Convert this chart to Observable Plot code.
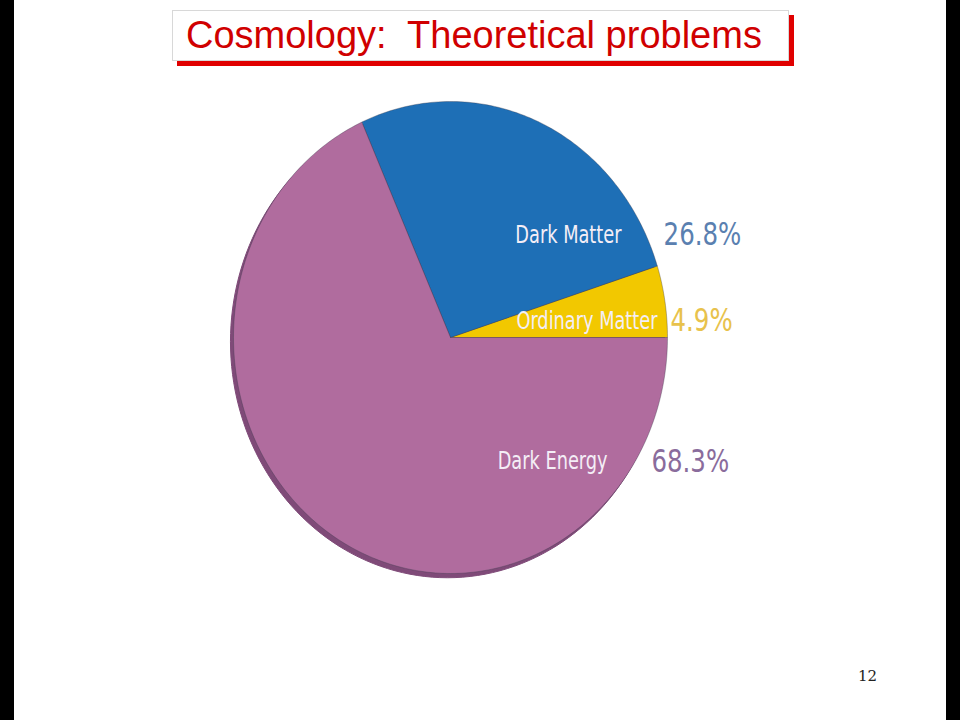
<!DOCTYPE html>
<html>
<head>
<meta charset="utf-8">
<script src="https://cdn.jsdelivr.net/npm/d3@7"></script>
<script src="https://cdn.jsdelivr.net/npm/@observablehq/plot@0.6"></script>
<style>
  html, body { margin: 0; padding: 0; width: 960px; height: 720px; background: #000; overflow: hidden; }
  #slide { position: absolute; left: 14px; top: 0; width: 932px; height: 720px; background: #fff; }
  #title { position: absolute; left: 158px; top: 10px; width: 615px; height: 49px; border: 1px solid #d8d8d8;
           box-shadow: 5px 5px 0 #e00000; background: #fff; box-sizing: content-box; }
  #title span { position: absolute; left: 13px; top: 5px; font-family: "Liberation Sans", sans-serif; font-size: 38px;
           line-height: 1; color: #d00000; white-space: pre; }
  #chart { position: absolute; left: 0; top: 80px; }
  #page { position: absolute; left: 844px; top: 667px; font-family: "DejaVu Serif", serif; font-size: 15px; color: #222; }
</style>
</head>
<body>
<div id="slide">
  <div id="title"><span>Cosmology:  Theoretical problems</span></div>
  <div id="chart"></div>
  <div id="page">12</div>
</div>
<script>
// Data
const categories = ["Ordinary Matter", "Dark Matter", "Dark Energy"];
const shares = [4.9, 26.8, 68.3];
const percentLabels = ["4.9%", "26.8%", "68.3%"];
const sliceColors = ["#f2c800", "#1e6fb6", "#b06c9e"];
const percentColors = ["#e8c24c", "#5a80b0", "#8a6c9c"];

// Build slice polygons (angles counter-clockwise from +x, starting at 0)
const total = d3.sum(shares);
const rows = [];
let a0 = 0;
shares.forEach((v, i) => {
  const a1 = a0 + v / total * 2 * Math.PI;
  rows.push({cat: categories[i], x: 0, y: 0, k: i});
  const n = Math.max(2, Math.ceil((a1 - a0) / (Math.PI / 180)));
  for (let j = 0; j <= n; j++) {
    const a = a0 + (a1 - a0) * j / n;
    rows.push({cat: categories[i], x: Math.cos(a), y: Math.sin(a), k: i});
  }
  rows.push({cat: categories[i], x: 0, y: 0, k: i});
  a0 = a1;
});

// Rim (3D edge) — whole disc, shifted slightly down-left
const rim = d3.range(0, 361, 2).map(d => ({x: Math.cos(d * Math.PI / 180) - 0.014, y: Math.sin(d * Math.PI / 180) - 0.018}));

// Label layout (data units)
const labelPos = {
  "Dark Matter": {x: 0.788, y: 0.436, px: 0.982},
  "Ordinary Matter": {x: 0.954, y: 0.072, px: 1.014},
  "Dark Energy": {x: 0.724, y: -0.525, px: 0.926}
};
const labels = categories.map((c, i) => ({cat: c, pct: percentLabels[i], col: percentColors[i], ...labelPos[c]}));

const labelFont = "'DejaVu Sans Condensed', sans-serif";

const chart = Plot.plot({
  width: 932,
  height: 640,
  margin: 0,
  x: {domain: [-1, 1], range: [219, 653], axis: null},
  y: {domain: [-1, 1], range: [493, 21], axis: null},
  color: {domain: categories, range: sliceColors},
  marks: [
    Plot.line(rim, {x: "x", y: "y", fill: "#7f4a78", stroke: "#7f4a78", strokeWidth: 1, curve: "linear-closed"}),
    Plot.line(rows, {x: "x", y: "y", z: "cat", fill: "cat", stroke: "#3a3a4a", strokeOpacity: 0.35, strokeWidth: 1, strokeLinejoin: "round"}),
    Plot.text(labels, {x: "x", y: "y", text: "cat", textAnchor: "end", fill: "#f4eef6", fontSize: 25,
                       fontFamily: labelFont, lineAnchor: "middle", className: "catlabel"}),
    Plot.text(labels, {x: "px", y: "y", text: "pct", textAnchor: "start", fill: d => d.col, fontSize: 32,
                       fontFamily: labelFont, fontWeight: 300, lineAnchor: "middle", className: "pctlabel"})
  ]
});
// Condense the label glyphs horizontally (narrow typeface look)
d3.select(chart).selectAll(".catlabel text").attr("transform", function() { return (this.getAttribute("transform") || "") + " scale(0.79,1)"; });
d3.select(chart).selectAll(".pctlabel text").attr("transform", function() { return (this.getAttribute("transform") || "") + " scale(0.85,1)"; });
document.getElementById("chart").appendChild(chart);
</script>
</body>
</html>
